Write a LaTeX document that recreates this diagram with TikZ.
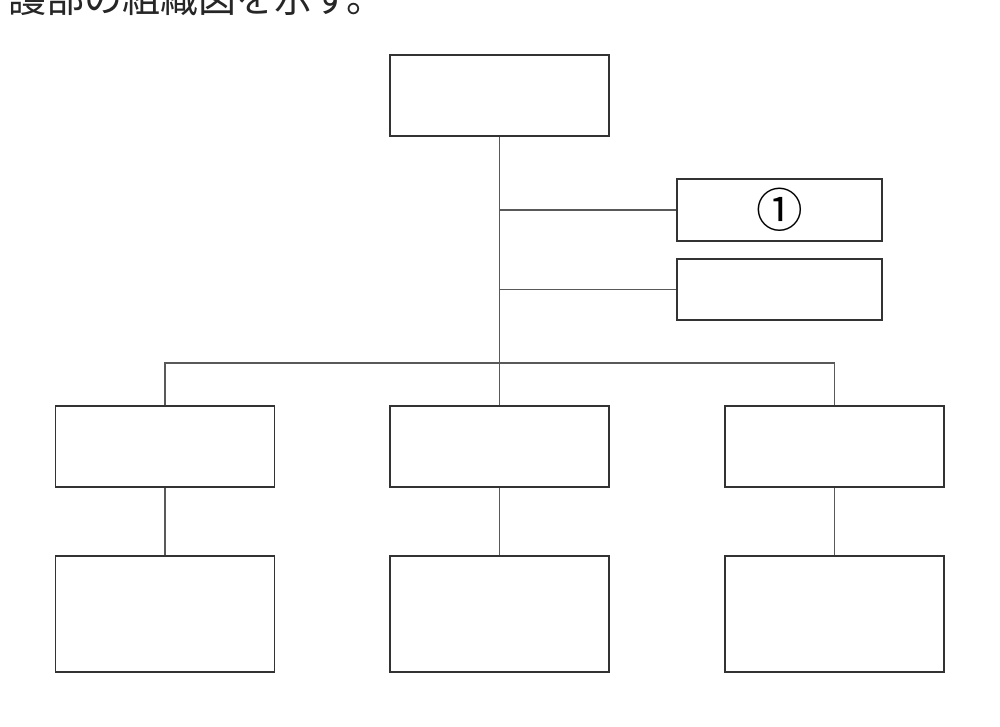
\documentclass[tikz,border=0pt]{standalone}
\usepackage{fontspec}
\newfontfamily\cjk{Noto Sans CJK JP}
\begin{document}
\begin{tikzpicture}[x=0.75pt,y=-0.75pt,
  orgbox/.style={draw=black!80,line width=1pt,fill=white,inner sep=0pt},
  link/.style={draw=black!65,line width=1.2pt}]
\useasboundingbox (0,0) rectangle (1000,727);
\clip (0,0) rectangle (1000,727);
\fill[white] (0,0) rectangle (1000,727);
\node[anchor=base west,inner sep=0pt,font=\cjk\fontsize{28.5pt}{28.5pt}\selectfont,text=black!85] (title) at (8,13) {護部の組織図を示す。};
% boxes
\node[orgbox,minimum width=219*0.75pt,minimum height=81*0.75pt] (top) at (499.5,95.5) {};
\node[orgbox,minimum width=205*0.75pt,minimum height=62*0.75pt,font=\cjk\fontsize{35pt}{35pt}\selectfont] (s1) at (779.5,210) {①};
\node[orgbox,minimum width=205*0.75pt,minimum height=61*0.75pt] (s2) at (779.5,289.5) {};
\node[orgbox,minimum width=219*0.75pt,minimum height=81*0.75pt] (m1) at (165,446.5) {};
\node[orgbox,minimum width=219*0.75pt,minimum height=81*0.75pt] (m2) at (499.5,446.5) {};
\node[orgbox,minimum width=219*0.75pt,minimum height=81*0.75pt] (m3) at (834.5,446.5) {};
\node[orgbox,minimum width=219*0.75pt,minimum height=116*0.75pt] (b1) at (165,614) {};
\node[orgbox,minimum width=219*0.75pt,minimum height=116*0.75pt] (b2) at (499.5,614) {};
\node[orgbox,minimum width=219*0.75pt,minimum height=116*0.75pt] (b3) at (834.5,614) {};
\coordinate (j1) at (499.5,210);
\coordinate (j2) at (499.5,289.5);
\coordinate (bus) at (499.5,363);
% connectors
\draw[link] (top.south) -- (m2.north);
\draw[link] (j1) -- (s1.west);
\draw[link] (j2) -- (s2.west);
\draw[link] (m1.north) |- (bus) -| (m3.north);
\draw[link] (m1.south) -- (b1.north);
\draw[link] (m2.south) -- (b2.north);
\draw[link] (m3.south) -- (b3.north);
\end{tikzpicture}
\end{document}
